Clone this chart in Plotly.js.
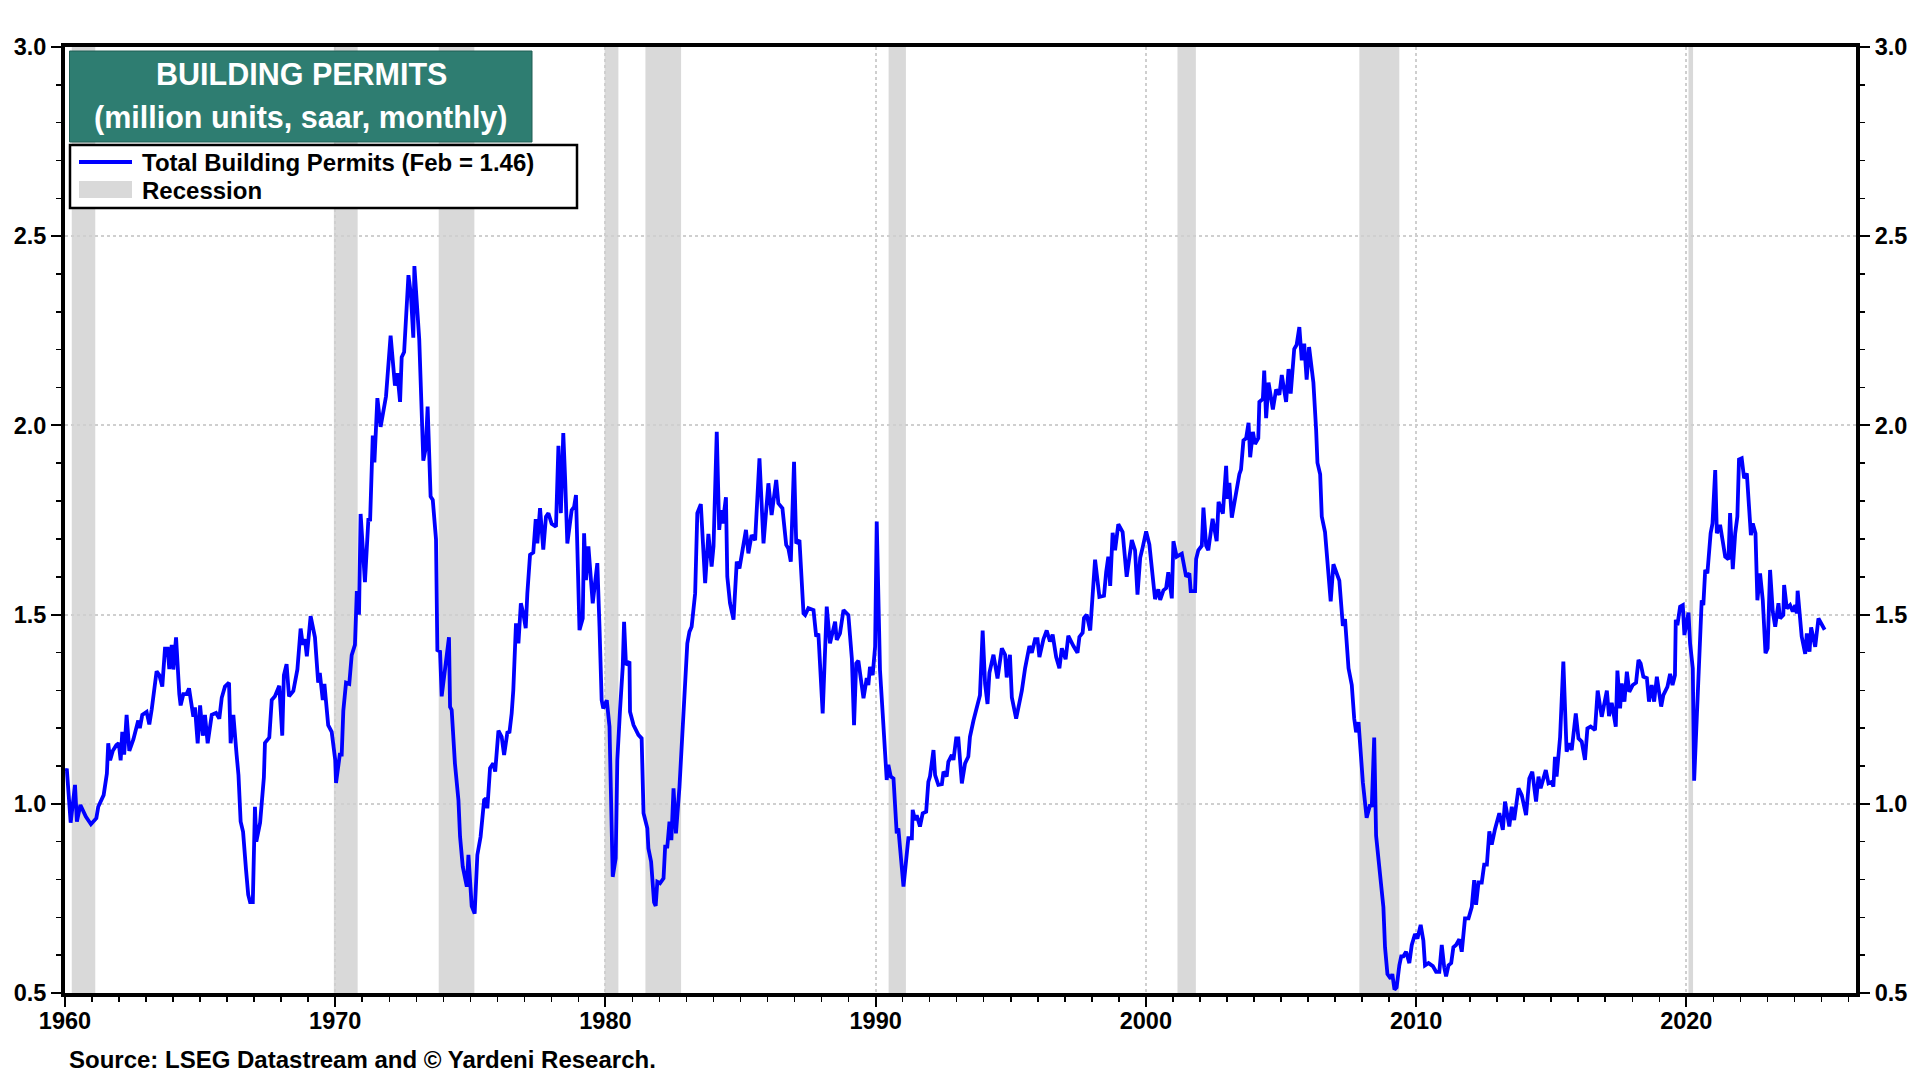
<!DOCTYPE html>
<html>
<head>
<meta charset="utf-8">
<script src="https://cdn.plot.ly/plotly-3.0.1.min.js"></script>
<style>
  html, body { margin: 0; padding: 0; background: #ffffff; }
  #chart { width: 1920px; height: 1080px; }
</style>
</head>
<body>
<div id="chart"></div>
<script>
// Total building permits, million units saar: [decimal year, value]
var permits1960s = [
  [1960.00,1.090],[1960.07,1.089],[1960.21,0.950],[1960.37,1.050],[1960.44,0.953],[1960.57,0.997],
  [1960.77,0.966],[1960.96,0.946],[1961.16,0.962],[1961.23,0.992],[1961.43,1.023],[1961.50,1.067],
  [1961.55,1.080],[1961.60,1.160],[1961.67,1.115],[1961.77,1.140],[1961.90,1.155],[1961.99,1.160],
  [1962.06,1.115],[1962.12,1.190],[1962.19,1.130],[1962.28,1.235],[1962.38,1.140],[1962.53,1.170],
  [1962.71,1.220],[1962.77,1.200],[1962.86,1.235],[1963.02,1.243],[1963.12,1.210],[1963.21,1.250],
  [1963.39,1.350],[1963.49,1.340],[1963.60,1.310],[1963.70,1.410],[1963.80,1.410],[1963.86,1.356],
  [1963.95,1.420],[1964.01,1.355],[1964.11,1.440],[1964.23,1.290],[1964.28,1.260],[1964.38,1.290],
  [1964.50,1.290],[1964.59,1.305],[1964.75,1.230],[1964.81,1.255],[1964.91,1.160],[1965.00,1.260],
  [1965.10,1.180],[1965.18,1.235],[1965.28,1.160],[1965.43,1.235],[1965.59,1.240],[1965.71,1.225],
  [1965.80,1.280],[1965.92,1.310],[1966.07,1.320],[1966.13,1.160],[1966.23,1.235],[1966.35,1.130],
  [1966.42,1.076],[1966.50,0.953],[1966.59,0.926],[1966.70,0.825],[1966.78,0.760],[1966.85,0.740],
  [1966.95,0.740],[1967.03,0.992],[1967.08,0.900],[1967.22,0.950],[1967.30,1.030],[1967.36,1.070],
  [1967.40,1.161],[1967.56,1.175],[1967.65,1.274],[1967.77,1.284],[1967.93,1.312],[1968.04,1.180],
  [1968.10,1.340],[1968.20,1.369],[1968.29,1.284],[1968.45,1.298],[1968.60,1.355],[1968.72,1.463],
  [1968.80,1.420],[1968.88,1.435],[1968.95,1.390],[1969.09,1.496],[1969.25,1.440],[1969.37,1.320],
  [1969.43,1.346],[1969.54,1.274],[1969.60,1.317],[1969.74,1.208],[1969.87,1.190],[1970.00,1.116]
];
var permits1970s = [
  [1970.03,1.055],[1970.10,1.100],[1970.17,1.130],[1970.24,1.130],[1970.30,1.246],[1970.40,1.320],
  [1970.52,1.317],[1970.61,1.393],[1970.73,1.420],[1970.80,1.562],[1970.88,1.500],[1970.94,1.766],
  [1971.10,1.586],[1971.23,1.755],[1971.29,1.747],[1971.39,1.973],[1971.45,1.902],[1971.56,2.072],
  [1971.68,1.996],[1971.88,2.077],[1972.05,2.237],[1972.21,2.105],[1972.30,2.138],[1972.40,2.062],
  [1972.46,2.180],[1972.55,2.194],[1972.71,2.397],[1972.80,2.346],[1972.89,2.232],[1972.93,2.421],
  [1973.11,2.227],[1973.26,1.907],[1973.35,1.940],[1973.42,2.050],[1973.53,1.812],[1973.61,1.803],
  [1973.73,1.699],[1973.78,1.406],[1973.88,1.402],[1973.94,1.284],[1974.06,1.350],[1974.21,1.440],
  [1974.25,1.256],[1974.31,1.248],[1974.43,1.107],[1974.56,1.010],[1974.62,0.913],[1974.72,0.834],
  [1974.87,0.781],[1974.93,0.865],[1975.05,0.730],[1975.10,0.720],[1975.16,0.710],[1975.26,0.865],
  [1975.38,0.913],[1975.51,1.010],[1975.58,1.014],[1975.63,0.988],[1975.73,1.094],[1975.85,1.107],
  [1975.92,1.085],[1976.04,1.193],[1976.16,1.177],[1976.25,1.129],[1976.37,1.188],[1976.45,1.190],
  [1976.53,1.239],[1976.59,1.300],[1976.69,1.477],[1976.78,1.424],[1976.87,1.530],[1976.96,1.503],
  [1977.05,1.464],[1977.11,1.556],[1977.21,1.658],[1977.33,1.664],[1977.42,1.752],[1977.48,1.688],
  [1977.58,1.781],[1977.70,1.672],[1977.80,1.759],[1977.89,1.768],[1978.01,1.740],[1978.17,1.732],
  [1978.26,1.946],[1978.35,1.768],[1978.44,1.980],[1978.51,1.856],[1978.59,1.688],[1978.75,1.776],
  [1978.84,1.785],[1978.91,1.816],[1978.97,1.644],[1979.04,1.459],[1979.16,1.490],[1979.21,1.715],
  [1979.28,1.591],[1979.37,1.680],[1979.53,1.530],[1979.70,1.636],[1979.78,1.468],[1979.86,1.274],
  [1979.92,1.252]
];
var permits1980s = [
  [1980.05,1.274],[1980.15,1.204],[1980.23,0.975],[1980.27,0.807],[1980.38,0.856],[1980.44,1.116],
  [1980.54,1.248],[1980.64,1.362],[1980.69,1.481],[1980.76,1.367],[1980.89,1.376],[1980.91,1.243],
  [1981.04,1.208],[1981.22,1.182],[1981.34,1.173],[1981.41,0.975],[1981.55,0.935],[1981.59,0.882],
  [1981.69,0.847],[1981.80,0.740],[1981.86,0.730],[1981.92,0.794],[1982.02,0.790],[1982.15,0.803],
  [1982.21,0.887],[1982.29,0.887],[1982.37,0.953],[1982.44,0.904],[1982.52,1.041],[1982.61,0.922],
  [1982.74,1.045],[1982.82,1.151],[1982.95,1.300],[1983.03,1.424],[1983.11,1.455],[1983.19,1.468],
  [1983.32,1.556],[1983.40,1.768],[1983.53,1.792],[1983.63,1.675],[1983.69,1.583],[1983.81,1.713],
  [1983.93,1.627],[1984.00,1.680],[1984.12,1.983],[1984.21,1.724],[1984.28,1.776],[1984.34,1.741],
  [1984.46,1.810],[1984.51,1.600],[1984.61,1.530],[1984.74,1.487],[1984.86,1.640],[1984.96,1.622],
  [1985.04,1.658],[1985.20,1.724],[1985.29,1.662],[1985.41,1.710],[1985.54,1.697],[1985.70,1.913],
  [1985.85,1.688],[1986.03,1.847],[1986.15,1.763],[1986.32,1.856],[1986.40,1.794],[1986.55,1.781],
  [1986.69,1.684],[1986.77,1.675],[1986.86,1.640],[1986.98,1.904],[1987.06,1.688],[1987.18,1.697],
  [1987.33,1.503],[1987.39,1.499],[1987.51,1.517],[1987.70,1.512],[1987.80,1.442],[1987.88,1.450],
  [1988.04,1.239],[1988.19,1.521],[1988.31,1.424],[1988.50,1.481],[1988.56,1.433],[1988.68,1.450],
  [1988.81,1.512],[1988.99,1.499],[1989.12,1.384],[1989.20,1.208],[1989.28,1.371],[1989.36,1.378],
  [1989.55,1.279],[1989.67,1.332],[1989.73,1.314],[1989.79,1.362],[1989.89,1.340],[1989.98,1.415]
];
var permits1990s = [
  [1990.04,1.746],[1990.16,1.354],[1990.26,1.239],[1990.35,1.107],[1990.41,1.063],[1990.47,1.103],
  [1990.56,1.072],[1990.66,1.067],[1990.72,0.970],[1990.78,0.922],[1990.84,0.935],[1990.93,0.852],
  [1991.03,0.781],[1991.13,0.852],[1991.21,0.909],[1991.34,0.909],[1991.37,0.984],[1991.46,0.957],
  [1991.52,0.970],[1991.64,0.940],[1991.74,0.975],[1991.87,0.979],[1991.95,1.058],[1992.01,1.072],
  [1992.14,1.142],[1992.20,1.076],[1992.32,1.050],[1992.45,1.052],[1992.51,1.085],[1992.63,1.072],
  [1992.69,1.111],[1992.82,1.129],[1992.88,1.116],[1992.98,1.173],[1993.06,1.173],[1993.19,1.054],
  [1993.31,1.107],[1993.43,1.125],[1993.49,1.177],[1993.62,1.220],[1993.75,1.260],[1993.86,1.287],
  [1993.96,1.458],[1994.05,1.317],[1994.14,1.264],[1994.21,1.346],[1994.36,1.394],[1994.51,1.331],
  [1994.67,1.411],[1994.79,1.394],[1994.85,1.334],[1994.97,1.394],[1995.04,1.281],[1995.20,1.225],
  [1995.41,1.299],[1995.53,1.358],[1995.69,1.417],[1995.78,1.399],[1995.90,1.435],[1995.99,1.435],
  [1996.06,1.388],[1996.21,1.435],[1996.33,1.458],[1996.45,1.429],[1996.55,1.447],[1996.68,1.388],
  [1996.80,1.358],[1996.89,1.411],[1997.03,1.382],[1997.13,1.444],[1997.32,1.417],[1997.47,1.399],
  [1997.54,1.441],[1997.66,1.452],[1997.71,1.491],[1997.81,1.500],[1997.94,1.458],[1998.03,1.565],
  [1998.12,1.645],[1998.28,1.547],[1998.45,1.550],[1998.53,1.612],[1998.61,1.653],[1998.68,1.576],
  [1998.77,1.716],[1998.86,1.670],[1998.98,1.739],[1999.14,1.718],[1999.29,1.600],[1999.48,1.697],
  [1999.60,1.670],[1999.69,1.553],[1999.79,1.650],[1999.88,1.677]
];
var permits2000s = [
  [2000.01,1.720],[2000.13,1.685],[2000.22,1.624],[2000.34,1.541],[2000.46,1.567],[2000.53,1.539],
  [2000.65,1.564],[2000.75,1.570],[2000.83,1.612],[2000.96,1.543],[2001.02,1.694],[2001.14,1.653],
  [2001.33,1.661],[2001.49,1.600],[2001.61,1.609],[2001.66,1.562],[2001.82,1.562],[2001.86,1.647],
  [2001.94,1.670],[2002.07,1.682],[2002.13,1.783],[2002.23,1.682],[2002.31,1.670],[2002.47,1.753],
  [2002.62,1.694],[2002.69,1.798],[2002.85,1.767],[2002.97,1.893],[2003.02,1.806],[2003.09,1.848],
  [2003.18,1.756],[2003.34,1.824],[2003.46,1.871],[2003.52,1.883],[2003.61,1.960],[2003.71,1.966],
  [2003.80,2.007],[2003.86,1.916],[2003.96,1.983],[2004.04,1.951],[2004.16,1.966],[2004.20,2.062],
  [2004.33,2.070],[2004.38,2.145],[2004.45,2.019],[2004.54,2.113],[2004.70,2.042],[2004.82,2.095],
  [2004.94,2.081],[2005.03,2.133],[2005.19,2.062],[2005.28,2.149],[2005.36,2.084],[2005.49,2.202],
  [2005.58,2.213],[2005.68,2.260],[2005.77,2.172],[2005.86,2.216],[2005.95,2.121],[2006.04,2.207],
  [2006.20,2.113],[2006.30,1.989],[2006.35,1.901],[2006.45,1.871],[2006.51,1.759],[2006.63,1.718],
  [2006.73,1.623],[2006.84,1.535],[2006.94,1.633],[2007.04,1.614],[2007.16,1.590],[2007.29,1.470],
  [2007.37,1.488],[2007.50,1.358],[2007.62,1.314],[2007.71,1.225],[2007.78,1.189],[2007.87,1.216],
  [2008.03,1.057],[2008.17,0.963],[2008.30,0.998],[2008.36,0.992],[2008.45,1.175],[2008.52,0.916],
  [2008.61,0.857],[2008.69,0.786],[2008.79,0.727],[2008.85,0.621],[2008.94,0.550],[2009.06,0.538],
  [2009.12,0.550],[2009.20,0.509],[2009.28,0.515],[2009.38,0.573],[2009.45,0.597],[2009.53,0.597],
  [2009.63,0.609],[2009.75,0.579],[2009.84,0.627],[2009.96,0.656]
];
var permits2010s = [
  [2010.05,0.644],[2010.17,0.680],[2010.27,0.638],[2010.33,0.573],[2010.46,0.579],[2010.62,0.571],
  [2010.74,0.556],[2010.86,0.556],[2010.95,0.627],[2011.04,0.568],[2011.11,0.544],[2011.20,0.573],
  [2011.30,0.579],[2011.38,0.621],[2011.48,0.627],[2011.60,0.642],[2011.69,0.609],[2011.81,0.697],
  [2011.94,0.697],[2012.06,0.727],[2012.15,0.798],[2012.22,0.733],[2012.31,0.792],[2012.43,0.792],
  [2012.52,0.839],[2012.62,0.839],[2012.71,0.927],[2012.80,0.892],[2012.92,0.933],[2013.08,0.975],
  [2013.21,0.931],[2013.29,1.006],[2013.45,0.940],[2013.54,0.992],[2013.63,0.957],[2013.79,1.041],
  [2013.91,1.023],[2014.07,0.970],[2014.19,1.067],[2014.30,1.085],[2014.44,1.006],[2014.53,1.072],
  [2014.61,1.041],[2014.80,1.089],[2014.90,1.054],[2015.02,1.058],[2015.08,1.045],[2015.14,1.124],
  [2015.20,1.072],[2015.33,1.177],[2015.45,1.376],[2015.57,1.138],[2015.67,1.160],[2015.76,1.142],
  [2015.91,1.239],[2016.01,1.173],[2016.13,1.164],[2016.25,1.116],[2016.34,1.199],[2016.46,1.204],
  [2016.62,1.195],[2016.72,1.299],[2016.87,1.230],[2017.06,1.299],[2017.14,1.232],[2017.24,1.267],
  [2017.39,1.204],[2017.45,1.352],[2017.55,1.252],[2017.61,1.318],[2017.71,1.270],[2017.80,1.349],
  [2017.89,1.296],[2018.02,1.314],[2018.14,1.320],[2018.23,1.380],[2018.31,1.371],[2018.41,1.336],
  [2018.54,1.332],[2018.62,1.270],[2018.72,1.314],[2018.81,1.270],[2018.91,1.336],[2019.07,1.257],
  [2019.15,1.287],[2019.30,1.309],[2019.40,1.343],[2019.49,1.314],[2019.58,1.340],[2019.61,1.486],
  [2019.67,1.472],[2019.77,1.521],[2019.87,1.525],[2019.93,1.446]
];
var permits2020s = [
  [2020.08,1.505],[2020.14,1.424],[2020.24,1.358],[2020.29,1.061],[2020.39,1.221],[2020.49,1.380],
  [2020.57,1.538],[2020.63,1.525],[2020.70,1.618],[2020.78,1.609],[2020.90,1.715],[2020.97,1.741],
  [2021.07,1.882],[2021.13,1.715],[2021.25,1.737],[2021.35,1.693],[2021.44,1.653],[2021.56,1.646],
  [2021.62,1.768],[2021.72,1.620],[2021.81,1.715],[2021.89,1.759],[2021.95,1.910],[2022.05,1.913],
  [2022.14,1.860],[2022.24,1.873],[2022.39,1.710],[2022.46,1.741],[2022.56,1.715],[2022.63,1.538],
  [2022.73,1.609],[2022.83,1.538],[2022.93,1.398],[2023.01,1.411],[2023.10,1.618],[2023.20,1.508],
  [2023.29,1.468],[2023.41,1.530],[2023.47,1.490],[2023.59,1.499],[2023.62,1.578],[2023.72,1.516],
  [2023.84,1.525],[2023.94,1.508],[2024.03,1.525],[2024.09,1.503],[2024.12,1.563],[2024.27,1.442],
  [2024.40,1.396],[2024.46,1.450],[2024.56,1.402],[2024.62,1.466],[2024.77,1.415],[2024.89,1.490],
  [2025.01,1.472],[2025.12,1.460]
];

// NBER recessions (decimal years)
var recessionStart = [1960.25, 1969.95, 1973.83, 1979.97, 1981.48, 1990.48, 2001.17, 2007.90, 2020.08];
var recessionEnd   = [1961.12, 1970.83, 1975.15, 1980.48, 1982.80, 1991.12, 2001.85, 2009.38, 2020.25];

var yTickVals = [0.5, 1.0, 1.5, 2.0, 2.5, 3.0];
var xTickVals = [1960, 1970, 1980, 1990, 2000, 2010, 2020];

var titleLines = ['BUILDING PERMITS', '(million units, saar, monthly)'];
var legendLabels = ['Total Building Permits (Feb = 1.46)', 'Recession'];
var sourceText = 'Source: LSEG Datastream and \u00a9 Yardeni Research.';

(function () {
  'use strict';

  var FONT = 'Arial, "Liberation Sans", Helvetica, sans-serif';
  var BLUE = '#0000ff';
  var SHADE = '#d9d9d9';
  var GRID = '#cfcfcf';
  var TEAL = '#2e7d71';

  // plot area in page pixels
  var L = 65, R = 1856, T = 47, B = 993;
  function px(x) { return (x - L) / (R - L); }
  function py(y) { return (B - y) / (B - T); }

  var all = [].concat(permits1960s, permits1970s, permits1980s, permits1990s,
                      permits2000s, permits2010s, permits2020s);
  var xs = all.map(function (d) { return d[0]; });
  var ys = all.map(function (d) { return d[1]; });

  var permitsTrace = {
    x: xs, y: ys,
    type: 'scatter', mode: 'lines',
    line: { color: BLUE, width: 3.8 },
    hoverinfo: 'skip', showlegend: false,
  };
  // same series on the right-hand axis so it gets drawn, kept invisible
  var rightTrace = {
    x: xs, y: ys, yaxis: 'y2',
    type: 'scatter', mode: 'lines',
    line: { color: 'rgba(0,0,0,0)', width: 0 },
    hoverinfo: 'skip', showlegend: false,
  };

  var tickFont = { family: FONT, size: 23.5, color: '#000', weight: 'bold' };

  var shapes = recessionStart.map(function (s, i) {
    return {
      type: 'rect', xref: 'x', yref: 'paper',
      x0: s, x1: recessionEnd[i], y0: 0, y1: 1,
      fillcolor: SHADE, line: { width: 0 }, layer: 'below',
    };
  });

  // title box + legend box
  shapes.push({
    type: 'rect', xref: 'paper', yref: 'paper',
    x0: px(69.5), x1: px(532), y0: py(142), y1: py(51),
    fillcolor: TEAL, line: { color: '#1f5f55', width: 1 }, layer: 'above',
  });
  shapes.push({
    type: 'rect', xref: 'paper', yref: 'paper',
    x0: px(70), x1: px(577), y0: py(208), y1: py(145),
    fillcolor: '#ffffff', line: { color: '#000', width: 2.5 }, layer: 'above',
  });
  shapes.push({
    type: 'line', xref: 'paper', yref: 'paper',
    x0: px(79), x1: px(132), y0: py(162), y1: py(162),
    line: { color: BLUE, width: 3.8 }, layer: 'above',
  });
  shapes.push({
    type: 'rect', xref: 'paper', yref: 'paper',
    x0: px(79), x1: px(132), y0: py(198), y1: py(181),
    fillcolor: SHADE, line: { width: 0 }, layer: 'above',
  });

  var annotations = [
    {
      xref: 'paper', yref: 'paper', x: px(301), y: py(74),
      text: titleLines[0], showarrow: false, xanchor: 'center', yanchor: 'middle',
      font: { family: FONT, size: 30.5, color: '#fff', weight: 'bold' },
    },
    {
      xref: 'paper', yref: 'paper', x: px(301), y: py(118),
      text: titleLines[1], showarrow: false, xanchor: 'center', yanchor: 'middle',
      font: { family: FONT, size: 30.5, color: '#fff', weight: 'bold' },
    },
    {
      xref: 'paper', yref: 'paper', x: px(140), y: py(162),
      text: legendLabels[0], showarrow: false, xanchor: 'left', yanchor: 'middle',
      font: { family: FONT, size: 24, color: '#000', weight: 'bold' },
    },
    {
      xref: 'paper', yref: 'paper', x: px(140), y: py(190),
      text: legendLabels[1], showarrow: false, xanchor: 'left', yanchor: 'middle',
      font: { family: FONT, size: 24, color: '#000', weight: 'bold' },
    },
    {
      xref: 'paper', yref: 'paper', x: px(67), y: py(1059),
      text: sourceText, showarrow: false, xanchor: 'left', yanchor: 'middle',
      font: { family: FONT, size: 24, color: '#000', weight: 'bold' },
    },
  ];

  var yAxisBase = {
    range: [0.5, 3.0],
    tickvals: yTickVals,
    ticktext: yTickVals.map(function (v) { return v.toFixed(1); }),
    ticks: 'outside', ticklen: 10, tickwidth: 2, tickcolor: '#000',
    minor: { dtick: 0.1, tick0: 0.5, ticks: 'outside', ticklen: 5, tickwidth: 1.5, tickcolor: '#000', showgrid: false },
    showline: true, linecolor: '#000', linewidth: 4,
    tickfont: tickFont,
    zeroline: false, fixedrange: true,
  };

  var layout = {
    width: 1920, height: 1080,
    paper_bgcolor: '#ffffff', plot_bgcolor: '#ffffff',
    margin: { l: L, r: 1920 - R, t: T, b: 1080 - B, pad: 0 },
    showlegend: false,
    font: { family: FONT, color: '#000' },
    xaxis: {
      range: [1960, 2026.28],
      tickvals: xTickVals,
      ticktext: xTickVals.map(String),
      ticks: 'outside', ticklen: 10, tickwidth: 2, tickcolor: '#000',
      ticklabelstandoff: -6,
      minor: { dtick: 1, tick0: 1960, ticks: 'outside', ticklen: 5, tickwidth: 1.5, tickcolor: '#000', showgrid: false },
      showgrid: true, gridcolor: GRID, gridwidth: 2, griddash: 'dot',
      showline: true, mirror: true, linecolor: '#000', linewidth: 4,
      tickfont: tickFont,
      zeroline: false, fixedrange: true,
    },
    yaxis: Object.assign({}, yAxisBase, {
      side: 'left',
      showgrid: true, gridcolor: GRID, gridwidth: 2, griddash: 'dot',
    }),
    yaxis2: Object.assign({}, yAxisBase, {
      side: 'right', overlaying: 'y',
      showgrid: false,
    }),
    shapes: shapes,
    annotations: annotations,
  };

  Plotly.newPlot('chart', [permitsTrace, rightTrace], layout, { displayModeBar: false, staticPlot: true });
})();
</script>
</body>
</html>
